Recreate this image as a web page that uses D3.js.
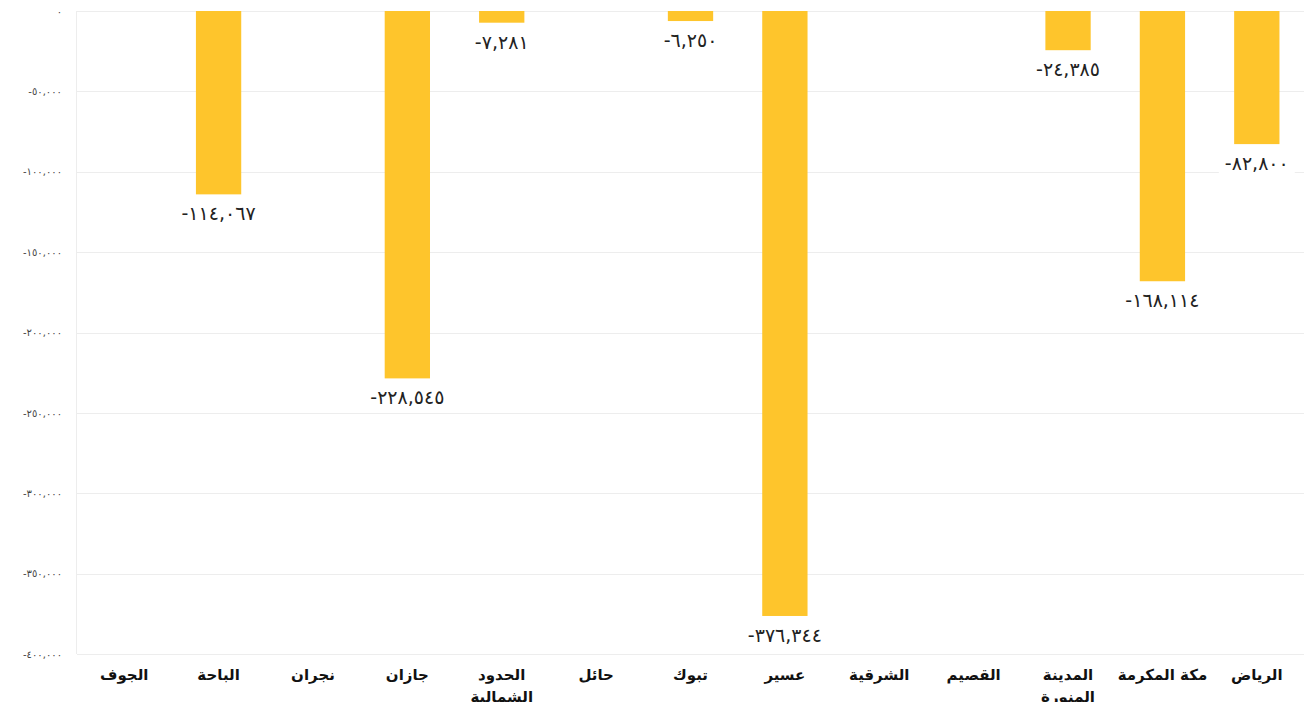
<!DOCTYPE html>
<html lang="ar">
<head>
<meta charset="UTF-8">
<title>chart</title>
<script src="https://d3js.org/d3.v7.min.js"></script>
<style>
  body { margin: 0; background: #fff; }
  svg { display: block; }
</style>
</head>
<body>
<script>
// regions, left to right as shown
var regions = ["الجوف", "الباحة", "نجران", "جازان", "الحدود الشمالية", "حائل", "تبوك",
               "عسير", "الشرقية", "القصيم", "المدينة المنورة", "مكة المكرمة", "الرياض"];
var values = [0, -114067, 0, -228545, -7281, 0, -6250, -376344, 0, 0, -24385, -168114, -82800];
var yTicks = [0, -50000, -100000, -150000, -200000, -250000, -300000, -350000, -400000];

var W = 1304, H = 702;
var margin = { top: 11, right: 0, bottom: 48, left: 77 };

var ar = d3.formatLocale({
  decimal: ".", thousands: ",", grouping: [3], currency: ["", ""],
  numerals: ["٠", "١", "٢", "٣", "٤", "٥", "٦", "٧", "٨", "٩"], minus: "-"
});
var fmt = ar.format(",d");

var svg = d3.select("body").append("svg")
  .attr("width", W).attr("height", H);

var x = d3.scaleBand()
  .domain(regions)
  .range([margin.left, W - margin.right])
  .paddingInner(0.52).paddingOuter(0.26);

var y = d3.scaleLinear()
  .domain([-400000, 0])
  .range([H - margin.bottom, margin.top]);

// grid
svg.append("g").selectAll("line").data(yTicks).enter().append("line")
  .attr("x1", margin.left).attr("x2", W)
  .attr("y1", d => Math.round(y(d)) + 0.5).attr("y2", d => Math.round(y(d)) + 0.5)
  .attr("stroke", "#ededed");
svg.append("line")
  .attr("x1", margin.left - 0.5).attr("x2", margin.left - 0.5)
  .attr("y1", y(0)).attr("y2", y(-400000))
  .attr("stroke", "#ededed");

// y axis labels
var yAxis = d3.axisLeft(y).tickValues(yTicks).tickFormat(fmt).tickSize(0).tickPadding(15);
var gy = svg.append("g").attr("transform", "translate(" + margin.left + ",0)").call(yAxis);
gy.select(".domain").remove();
gy.selectAll("text")
  .attr("font-family", "DejaVu Sans, sans-serif")
  .attr("font-size", 10).attr("fill", "#444")
  .attr("direction", "ltr");

// bars
var data = regions.map((r, i) => ({ region: r, value: values[i] }));
svg.append("g").selectAll("rect").data(data.filter(d => d.value !== 0)).enter().append("rect")
  .attr("x", d => x(d.region))
  .attr("width", x.bandwidth())
  .attr("y", y(0))
  .attr("height", d => y(d.value) - y(0))
  .attr("fill", "#FEC52C");

// value labels with white backing
var lab = svg.append("g").selectAll("g").data(data.filter(d => d.value !== 0)).enter().append("g")
  .attr("transform", d => "translate(" + (x(d.region) + x.bandwidth() / 2) + "," + (y(d.value) + 26) + ")");
lab.append("text")
  .attr("text-anchor", "middle")
  .attr("direction", "ltr")
  .attr("font-family", "DejaVu Sans, sans-serif")
  .attr("font-size", 19)
  .attr("letter-spacing", 0.6)
  .attr("fill", "#222")
  .text(d => fmt(d.value));
lab.each(function () {
  var g = d3.select(this), bb = g.select("text").node().getBBox();
  g.insert("rect", "text")
    .attr("x", bb.x - 6).attr("y", bb.y).attr("width", bb.width + 12).attr("height", bb.height)
    .attr("fill", "#fff");
});

// category labels
var xAxis = d3.axisBottom(x).tickSize(0).tickPadding(15);
var gx = svg.append("g").attr("transform", "translate(0," + y(-400000) + ")").call(xAxis);
gx.select(".domain").remove();
gx.selectAll("text")
  .attr("font-family", "DejaVu Sans, sans-serif")
  .attr("font-weight", "bold")
  .attr("font-size", 15)
  .attr("fill", "#111")
  .call(wrap, 92);

function wrap(texts, width) {
  texts.each(function () {
    var t = d3.select(this), words = t.text().split(" ");
    if (t.node().getComputedTextLength() <= width || words.length < 2) return;
    var yy = t.attr("y"), dy = t.attr("dy");
    t.text(null);
    words.forEach(function (w, i) {
      t.append("tspan").attr("x", 0).attr("y", yy)
        .attr("dy", i === 0 ? dy : (i * 1.5) + parseFloat(dy) + "em").text(w);
    });
  });
}
</script>
</body>
</html>
